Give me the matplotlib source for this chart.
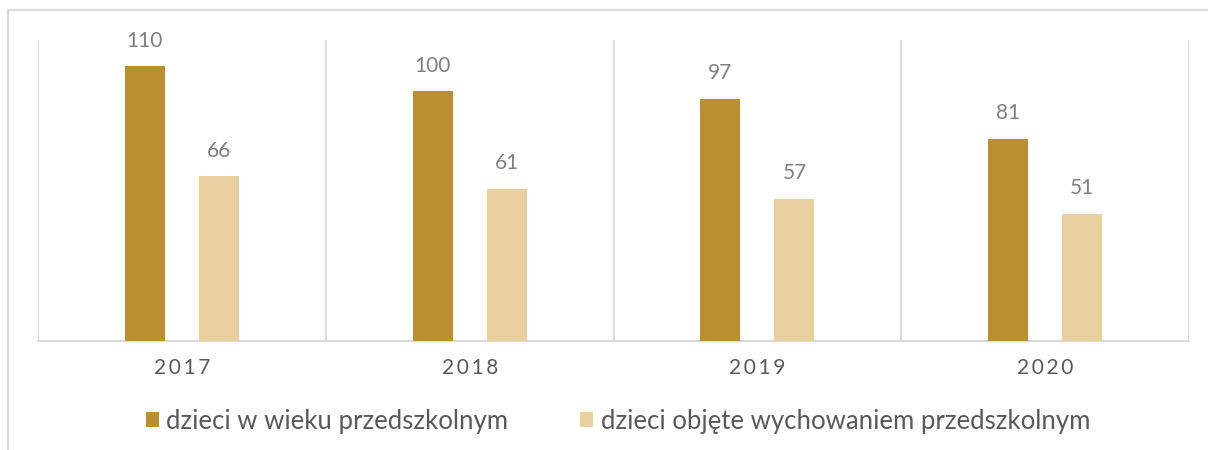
import matplotlib
matplotlib.use("Agg")
import matplotlib.pyplot as plt
from matplotlib.patches import Rectangle
import numpy as np

years = ["2017", "2018", "2019", "2020"]
series_names = ["dzieci w wieku przedszkolnym", "dzieci objęte wychowaniem przedszkolnym"]
preschool_age = [110, 100, 97, 81]
preschool_care = [66, 61, 57, 51]

colors = ["#B98F30", "#E8D19E"]
W, H = 1208, 450
fig = plt.figure(figsize=(W / 100, H / 100), dpi=100)
plt.rcParams['font.family'] = ['Lato', 'DejaVu Sans']

# outer frame
fig.patches.append(Rectangle((8 / W, -0.1), 1.2, 1 - 10 / H + 0.1, transform=fig.transFigure,
                             fill=False, edgecolor="#d9d9d9", linewidth=1.5))

ax = fig.add_axes([38 / W, 1 - 341 / H, (1189 - 38) / W, (341 - 40) / H])
x = np.arange(len(years))
bw = 0.139
off = 0.129
b1 = ax.bar(x - off, preschool_age, bw, color=colors[0], label=series_names[0], zorder=3)
b2 = ax.bar(x + off, preschool_care, bw, color=colors[1], label=series_names[1], zorder=3)
for bars, vals in ((b1, preschool_age), (b2, preschool_care)):
    for r, v in zip(bars, vals):
        ax.annotate(str(v), (r.get_x() + r.get_width() / 2, v), xytext=(0, 11),
                    textcoords="offset points", ha="center", va="bottom",
                    fontsize=15, color="#7f7f7f")

ax.set_xlim(-0.5, len(years) - 0.5)
ax.set_ylim(0, 120.4)
ax.set_yticks([])
ax.set_xticks(x)
ax.set_xticklabels(["\u2009".join(y) for y in years], fontsize=15, color="#595959")
ax.tick_params(axis="x", length=0, pad=12)
for xv in np.arange(-0.5, len(years), 1.0):
    ax.axvline(xv, color="#d9d9d9", linewidth=1.3, zorder=1)
for s in ["top", "right", "left"]:
    ax.spines[s].set_visible(False)
ax.spines["bottom"].set_color("#d9d9d9")
ax.spines["bottom"].set_linewidth(1.5)

leg = fig.legend(handles=[b1, b2], loc="center", bbox_to_anchor=(618 / W, 1 - 421 / H),
                 ncol=2, frameon=False, fontsize=18.5, handlelength=0.5, handleheight=0.5,
                 handletextpad=0.3, columnspacing=2.8, labelcolor="#595959")

fig.savefig("out.png", dpi=100)
